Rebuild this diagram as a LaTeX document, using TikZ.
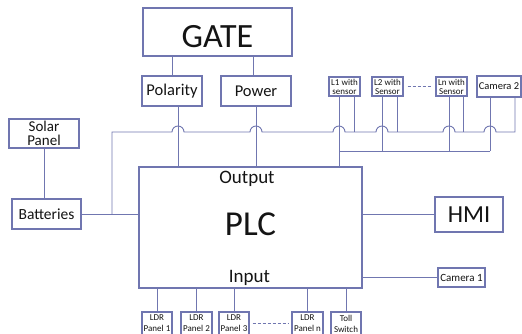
\documentclass[tikz,border=0pt]{standalone}
\usepackage{fontspec}
\setmainfont{Carlito}
\usepackage{tikz}
\usetikzlibrary{calc}
\definecolor{mylav}{RGB}{112,118,176}
\definecolor{mytext}{RGB}{20,20,20}
\tikzset{
  block/.style={rectangle, draw=mylav, fill=white, text=mytext,
    inner sep=0pt, align=center, line width=1.1pt},
  line/.style={draw=mylav, line width=0.9pt},
  dashline/.style={draw=mylav, line width=0.9pt, dash pattern=on 3pt off 2pt}
}

\begin{document}
\begin{tikzpicture}[x=1pt, y=-1pt]
  \useasboundingbox (0,0) rectangle (522,334);
  \clip (0,0) rectangle (522,334);

  % --- GATE SIDE ---
  \node[block, minimum width=149pt, minimum height=48pt, text height=31pt, font=\fontsize{34}{36}\selectfont] (gate) at (217.5,32) {GATE};
  \node[block, minimum width=60pt, minimum height=30pt, font=\fontsize{16.5}{18}\selectfont] (polarity) at (172,91) {Polarity};
  \node[block, minimum width=70pt, minimum height=30pt, font=\fontsize{16.5}{18}\selectfont] (power) at (256,91) {Power};

  % --- SUPPLY ---
  \node[block, minimum width=70pt, minimum height=29pt, font=\fontsize{15}{14.5}\selectfont] (solar) at (44,133.5) {Solar\\Panel};
  \node[block, minimum width=69pt, minimum height=30pt, font=\fontsize{15.5}{17}\selectfont] (bat) at (46.5,214) {Batteries};

  % --- PLC ---
  \node[block, minimum width=223pt, minimum height=121pt, text depth=6pt, font=\fontsize{35}{38}\selectfont] (plc) at (250.5,227.5) {PLC};
  \node[text=mytext, font=\fontsize{19}{21}\selectfont] (plcout) at (247,179) {Output};
  \node[text=mytext, font=\fontsize{19}{21}\selectfont] (plcin) at (249.5,278) {Input};
  \node[block, minimum width=68pt, minimum height=35pt, font=\fontsize{24.5}{27}\selectfont] (hmi) at (469,214.5) {HMI};
  \node[block, minimum width=47pt, minimum height=19pt, font=\fontsize{11}{12}\selectfont] (cam1) at (461.5,277.5) {Camera 1};

  % --- LANE SENSORS ---
  \node[block, minimum width=31pt, minimum height=19pt, font=\fontsize{9}{9}\selectfont] (l1) at (344.5,86.5) {L1 with\\sensor};
  \node[block, minimum width=31pt, minimum height=19pt, font=\fontsize{9}{9}\selectfont] (l2) at (387.5,86.5) {L2 with\\Sensor};
  \node[block, minimum width=31pt, minimum height=19pt, font=\fontsize{9}{9}\selectfont] (ln) at (451.5,86.5) {Ln with\\Sensor};
  \node[block, minimum width=44pt, minimum height=21pt, font=\fontsize{10.5}{12}\selectfont] (cam2) at (499,86.5) {Camera 2};

  % --- INPUT PANELS ---
  \node[block, minimum width=30pt, minimum height=23pt, font=\fontsize{9}{11}\selectfont] (ldra) at (157,323.5) {LDR\\Panel 1};
  \node[block, minimum width=31pt, minimum height=23pt, font=\fontsize{9}{11}\selectfont] (ldrb) at (196.5,323.5) {LDR\\Panel 2};
  \node[block, minimum width=30pt, minimum height=23pt, font=\fontsize{9}{11}\selectfont] (ldrc) at (234,323.5) {LDR\\Panel 3};
  \node[block, minimum width=31pt, minimum height=23pt, font=\fontsize{9}{11}\selectfont] (ldrn) at (307.5,323.5) {LDR\\Panel n};
  \node[block, minimum width=30pt, minimum height=23pt, font=\fontsize{9}{11}\selectfont] (toll) at (346,323.5) {Toll\\Switch};

  % --- WIRING ---
  \coordinate (bus) at (0,132);
  \coordinate (lowbus) at (0,151);
  \coordinate (jbat) at (112,0);
  \coordinate (pol) at ([xshift=6pt]polarity.south);
  \coordinate (pow) at (power.south);
  \coordinate (l1a) at ([xshift=-5.5pt]l1.south);
  \coordinate (l1b) at ([xshift=9.5pt]l1.south);
  \coordinate (l2a) at ([xshift=-5.5pt]l2.south);
  \coordinate (l2b) at ([xshift=9.5pt]l2.south);
  \coordinate (lna) at ([xshift=-2.5pt]ln.south);
  \coordinate (lnb) at ([xshift=11.5pt]ln.south);
  \coordinate (cam2a) at ([xshift=-9pt]cam2.south);
  \coordinate (cam2b) at ([xshift=16pt]cam2.south);

  \draw[line] (gate.south -| polarity) -- (polarity.north);
  \draw[line] ([xshift=-3pt]power.north) -- ([xshift=-3pt]power.north |- gate.south);
  \draw[line] (pol) -- (pol |- plc.north);
  \draw[line] (pow) -- (pow |- plc.north);
  \draw[line] (l1a) -- (l1a |- plc.north);
  \draw[line] (l2a) -- (l2a |- lowbus);
  \draw[line] (lna) -- (lna |- lowbus);
  \draw[line] (cam2a) -- (cam2a |- lowbus);
  \draw[line] (l1a |- lowbus) -- (cam2a |- lowbus);
  \draw[line] (l1b) -- (l1b |- bus);
  \draw[line] (l2b) -- (l2b |- bus);
  \draw[line] (lnb) -- (lnb |- bus);
  \draw[line] (jbat |- bat.east) -- (jbat |- bus)
    \foreach \leg in {pol,pow,l1a,l2a,lna,cam2a} { -- ($(\leg |- bus)+(-6,0)$) arc[start angle=180, end angle=0, radius=6pt] }
    -- (cam2b |- bus) -- (cam2b);
  \draw[dashline, shorten <=4pt, shorten >=4pt] (l2.east) -- (ln.west);

  \draw[line] (solar.south) -- (solar.south |- bat.north);
  \draw[line] (bat.east) -- (plc.west |- bat.east);
  \draw[line] (plc.east |- hmi) -- (hmi.west);
  \draw[line] (plc.east |- cam1) -- (cam1.west);

  \foreach \p in {ldra,ldrb,ldrc,ldrn,toll}
    \draw[line] (\p.north) -- (\p.north |- plc.south);
  \draw[dashline, shorten <=3pt, shorten >=3pt] (ldrc.east) -- (ldrn.west);
\end{tikzpicture}
\end{document}
